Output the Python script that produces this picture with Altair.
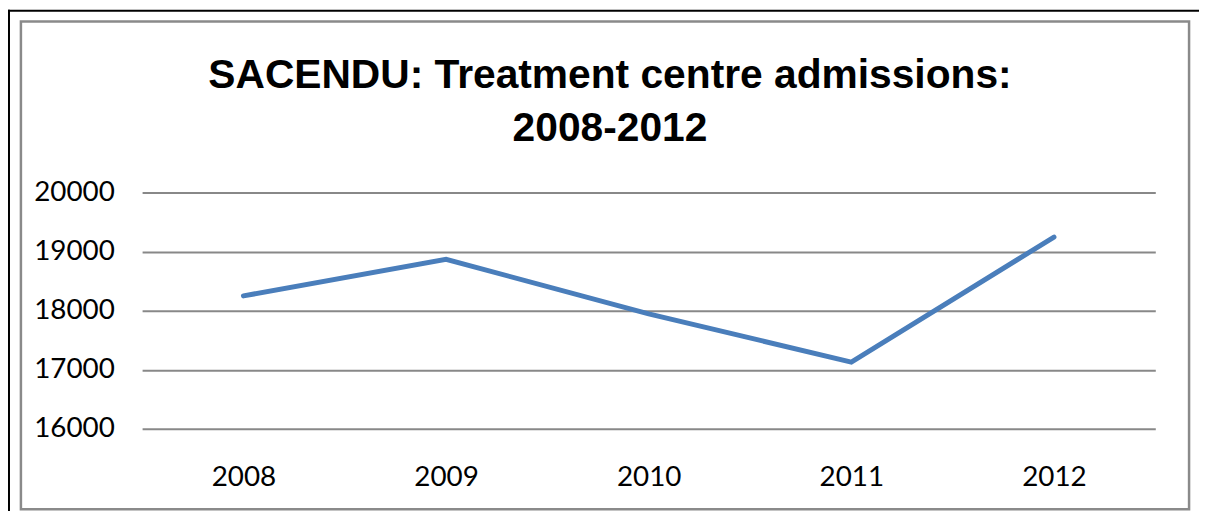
import altair as alt
import pandas as pd

years = ["2008", "2009", "2010", "2011", "2012"]
admissions = [18250, 18870, 17945, 17130, 19245]
y_ticks = [16000, 17000, 18000, 19000, 20000]
title_lines = ["SACENDU: Treatment centre admissions:", "2008-2012"]

df = pd.DataFrame({"year": years, "admissions": admissions})
one = alt.Data(values=[{"k": 0}])

W, H = 1020, 238

line = alt.Chart(df).mark_line(color="#4A7EBB", strokeWidth=5, strokeCap="round", strokeJoin="miter").encode(
    x=alt.X("year:O", title=None, sort=years,
            scale=alt.Scale(type="point", padding=0.5),
            axis=alt.Axis(labelAngle=0, domain=False, ticks=False, labelPadding=35,
                          labelFont="Lato", labelFontSize=28, labelColor="#000000", grid=False)),
    y=alt.Y("admissions:Q", title=None,
            scale=alt.Scale(domain=[16000, 20000], nice=False, zero=False),
            axis=alt.Axis(values=y_ticks, format="d", domain=False, ticks=False, labelPadding=28,
                          labelFont="Lato", labelFontSize=28, labelColor="#000000",
                          grid=True, gridColor="#888888", gridWidth=2)),
)

frame = alt.Chart(one).mark_rect(fill=None, stroke="#8a8a8a", strokeWidth=2.5).encode(
    x=alt.value(-122), x2=alt.value(1054), y=alt.value(-172), y2=alt.value(319)
)
left_black = alt.Chart(one).mark_rule(color="#000000", strokeWidth=2).encode(
    x=alt.value(-134), y=alt.value(-184), y2=alt.value(330)
)
top_black = alt.Chart(one).mark_rule(color="#000000", strokeWidth=2).encode(
    x=alt.value(-135), x2=alt.value(1070), y=alt.value(-183)
)

chart = alt.layer(frame, left_black, top_black, line).properties(
    width=W, height=H,
    background="#ffffff",
    padding={"left": 135, "top": 184, "right": 44, "bottom": 81},
    autosize=alt.AutoSizeParams(type="none"),
    title=alt.TitleParams(
        text=title_lines, anchor="middle", frame="group", dx=-39, offset=-174,
        font="Liberation Sans", fontSize=41, fontWeight="bold", color="#000000",
        lineHeight=53, baseline="alphabetic",
    ),
).configure_view(stroke=None)

chart.save("out.html", embed_options={"renderer": "svg", "actions": False})
